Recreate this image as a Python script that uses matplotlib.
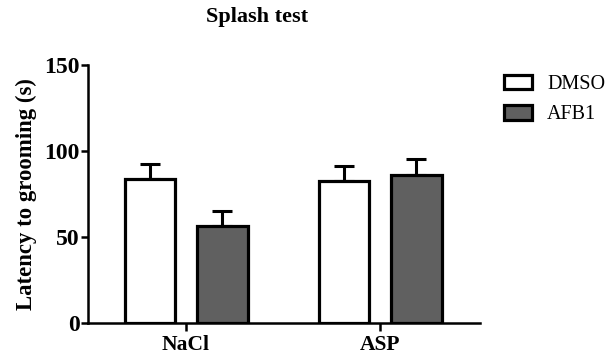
import matplotlib.pyplot as plt
import numpy as np

plt.rcParams['font.family'] = ['Liberation Serif', 'DejaVu Serif']

groups = ['NaCl', 'ASP']
series = ['DMSO', 'AFB1']
means = {'DMSO': [83.5, 82.7], 'AFB1': [56.4, 86.0]}
sem = {'DMSO': [8.9, 8.6], 'AFB1': [8.7, 9.5]}
colors = {'DMSO': 'white', 'AFB1': '#606060'}

fig = plt.figure(figsize=(6.13, 3.6), dpi=100)
ax = fig.add_axes([0.1436, 0.103, 0.783 - 0.1436, 0.8194 - 0.103])

x = np.arange(len(groups))
w = 0.26
offs = {'DMSO': -0.187, 'AFB1': 0.187}
for s in series:
    pos = x + offs[s]
    ax.errorbar(pos, means[s], yerr=[np.zeros(len(groups)), sem[s]], fmt='none',
                ecolor='black', elinewidth=2.2, capsize=7, capthick=2.2, zorder=1)
    ax.bar(pos, means[s], width=w, color=colors[s], edgecolor='black',
           linewidth=2.3, label=s, zorder=2)

ax.set_xlim(-0.505, 1.515)
ax.set_ylim(0, 150)
ax.set_yticks([0, 50, 100, 150])
ax.set_xticks(x)
ax.set_xticklabels(groups, fontsize=15.5, fontweight='bold')
for t in ax.get_yticklabels():
    t.set_fontsize(17)
    t.set_fontweight('bold')
ax.set_ylabel('Latency to grooming (s)', fontsize=16.4, fontweight='bold')
ax.yaxis.set_label_coords(-0.13, 0.5)
ax.spines['top'].set_visible(False)
ax.spines['right'].set_visible(False)
ax.spines['left'].set_linewidth(1.8)
ax.spines['bottom'].set_linewidth(1.8)
ax.tick_params(axis='y', width=1.8, length=5, pad=1)
ax.tick_params(axis='x', width=1.8, length=6, pad=3)

fig.text(0.42, 0.953, 'Splash test', ha='center', va='center', fontsize=16, fontweight='bold')

leg = ax.legend(loc='upper left', bbox_to_anchor=(1.061, 0.963), frameon=False,
                fontsize=14.5, handlelength=1.4, handleheight=0.75, handletextpad=0.75,
                labelspacing=0.55, borderpad=0, borderaxespad=0)
plt.savefig('out.png', dpi=100)
